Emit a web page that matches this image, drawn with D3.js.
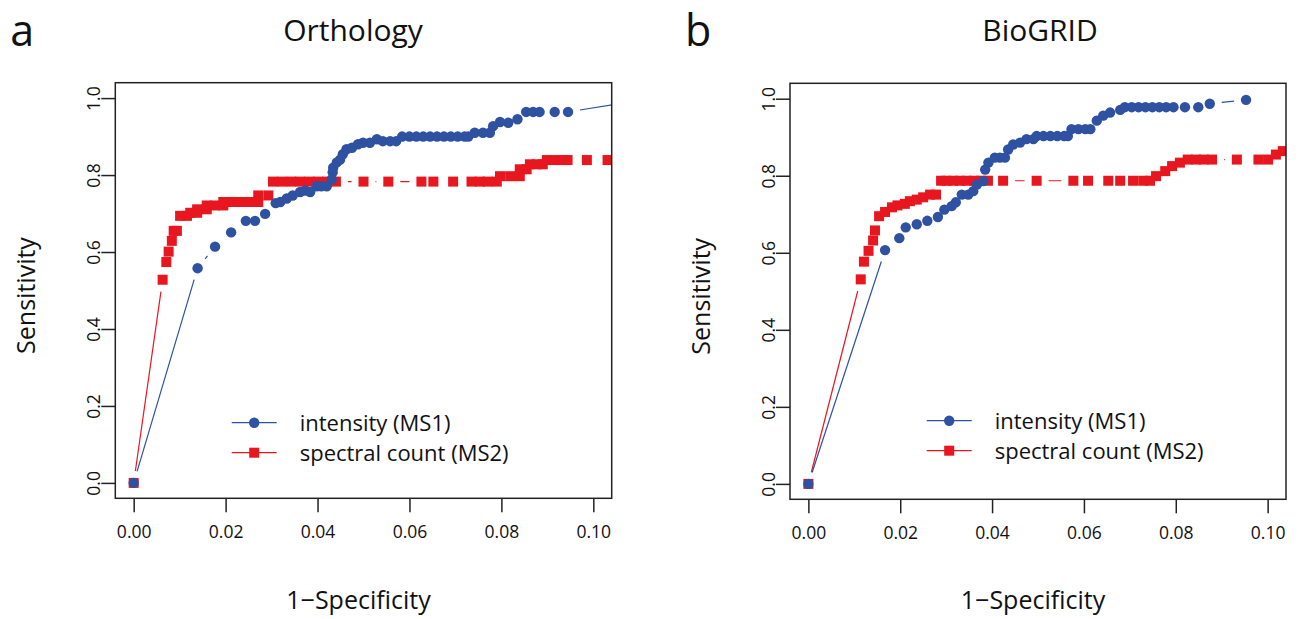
<!DOCTYPE html>
<html>
<head>
<meta charset="utf-8">
<script src="https://cdn.jsdelivr.net/npm/d3@7"></script>
<style>
  body { margin: 0; background: #fff; }
  text { font-family: "Open Sans", "Noto Sans", sans-serif; fill: #111; }
</style>
</head>
<body>
<div id="chart"></div>
<script>
// tick values
var xTicks = [0, 0.02, 0.04, 0.06, 0.08, 0.10];
var yTicks = [0, 0.2, 0.4, 0.6, 0.8, 1.0];
var seriesNames = ["intensity (MS1)", "spectral count (MS2)"];

// panel a: Orthology  [1-specificity, sensitivity]
var orthoIntensity = [
  [0, 0], [0.0139, 0.558], [0.0177, 0.614], [0.0212, 0.651], [0.0244, 0.681], [0.0264, 0.681],
  [0.0286, 0.699], [0.0309, 0.727], [0.0319, 0.730], [0.0333, 0.739], [0.0346, 0.747],
  [0.0362, 0.756], [0.0373, 0.760], [0.0384, 0.756], [0.0398, 0.771], [0.0408, 0.771],
  [0.0420, 0.771], [0.0431, 0.789], [0.0433, 0.807], [0.0434, 0.819], [0.0442, 0.833],
  [0.0449, 0.840], [0.0455, 0.854], [0.0463, 0.867], [0.0475, 0.871], [0.0488, 0.880],
  [0.0499, 0.884], [0.0514, 0.884], [0.0529, 0.893], [0.0542, 0.888], [0.0558, 0.888],
  [0.0571, 0.888], [0.0584, 0.900], [0.0600, 0.900], [0.0615, 0.900], [0.0630, 0.900],
  [0.0645, 0.900], [0.0660, 0.900], [0.0675, 0.900], [0.0690, 0.900], [0.0705, 0.900],
  [0.0720, 0.900], [0.0728, 0.900], [0.0742, 0.910], [0.0760, 0.910], [0.0775, 0.910],
  [0.0782, 0.927], [0.0797, 0.938], [0.0815, 0.936], [0.0835, 0.945], [0.0854, 0.964],
  [0.0869, 0.964], [0.0883, 0.964], [0.0916, 0.964], [0.0945, 0.964], [0.113, 1.0]
];
var orthoCount = [
  [0, 0], [0.0063, 0.528], [0.0071, 0.574], [0.0076, 0.601], [0.0083, 0.629], [0.0087, 0.655],
  [0.0094, 0.655], [0.0101, 0.694], [0.0116, 0.694], [0.0123, 0.702], [0.0138, 0.702],
  [0.0138, 0.711], [0.0159, 0.711], [0.0159, 0.721], [0.0177, 0.721], [0.0195, 0.721],
  [0.0195, 0.730], [0.0214, 0.730], [0.0234, 0.730], [0.0253, 0.730], [0.0271, 0.730],
  [0.0271, 0.747], [0.0293, 0.747], [0.0303, 0.783], [0.0323, 0.783], [0.0343, 0.783],
  [0.0362, 0.783], [0.0382, 0.783], [0.0401, 0.783], [0.0421, 0.783], [0.0440, 0.783],
  [0.0500, 0.783], [0.0554, 0.783], [0.0626, 0.783], [0.0652, 0.783], [0.0695, 0.783],
  [0.0735, 0.783], [0.0753, 0.783], [0.0770, 0.783], [0.0790, 0.783], [0.0797, 0.797],
  [0.0819, 0.797], [0.0840, 0.797], [0.0840, 0.815], [0.0855, 0.815], [0.0862, 0.828],
  [0.0877, 0.828], [0.0890, 0.828], [0.0899, 0.839], [0.0916, 0.839], [0.0934, 0.839],
  [0.0944, 0.839], [0.0986, 0.839], [0.1031, 0.839], [0.1080, 0.839]
];

// panel b: BioGRID
var biogridIntensity = [
  [0, 0], [0.0167, 0.607], [0.0198, 0.638], [0.0212, 0.666], [0.0236, 0.674], [0.0259, 0.683],
  [0.0282, 0.693], [0.0296, 0.712], [0.0312, 0.721], [0.0321, 0.731], [0.0334, 0.751],
  [0.0348, 0.751], [0.0359, 0.760], [0.0367, 0.777], [0.0381, 0.786], [0.0385, 0.816],
  [0.0392, 0.834], [0.0406, 0.847], [0.0417, 0.847], [0.0428, 0.847], [0.0435, 0.868],
  [0.0446, 0.881], [0.0461, 0.886], [0.0475, 0.895], [0.0490, 0.895], [0.0497, 0.903],
  [0.0512, 0.903], [0.0527, 0.903], [0.0542, 0.903], [0.0557, 0.903], [0.0565, 0.903],
  [0.0573, 0.921], [0.0588, 0.921], [0.0603, 0.921], [0.0614, 0.921], [0.0628, 0.943],
  [0.0642, 0.956], [0.0657, 0.964], [0.0679, 0.971], [0.0689, 0.978], [0.0704, 0.978],
  [0.0719, 0.978], [0.0734, 0.978], [0.0749, 0.978], [0.0764, 0.978], [0.0779, 0.978],
  [0.0795, 0.978], [0.0820, 0.978], [0.0849, 0.978], [0.0874, 0.987], [0.0953, 0.997]
];
var biogridCount = [
  [0, 0], [0.0114, 0.531], [0.0121, 0.577], [0.0131, 0.605], [0.0141, 0.632], [0.0145, 0.658],
  [0.0154, 0.695], [0.0167, 0.706], [0.0182, 0.718], [0.0194, 0.723], [0.0210, 0.727],
  [0.0221, 0.734], [0.0236, 0.738], [0.0250, 0.744], [0.0265, 0.751], [0.0278, 0.751],
  [0.0289, 0.787], [0.0301, 0.787], [0.0315, 0.787], [0.0330, 0.787], [0.0345, 0.787],
  [0.0361, 0.787], [0.0376, 0.787], [0.0391, 0.787], [0.0424, 0.787], [0.0497, 0.787],
  [0.0577, 0.787], [0.0609, 0.787], [0.0653, 0.787], [0.0679, 0.787], [0.0707, 0.787],
  [0.0729, 0.787], [0.0744, 0.787], [0.0757, 0.799], [0.0777, 0.812], [0.0792, 0.825],
  [0.0809, 0.834], [0.0826, 0.842], [0.0844, 0.842], [0.0861, 0.842], [0.0879, 0.842],
  [0.0933, 0.842], [0.0980, 0.842], [0.1001, 0.842], [0.1018, 0.855], [0.1033, 0.864]
];

var panels = [
  {letter: "a", title: "Orthology", titleX: 353, box: [115.3, 611.7, 82.7, 498.3],
   legend: [231.7, 422.7], intensity: orthoIntensity, count: orthoCount},
  {letter: "b", title: "BioGRID", titleX: 1040, box: [790, 1286, 83.3, 499.3],
   legend: [926.7, 420.7], intensity: biogridIntensity, count: biogridCount}
];

var blue = "#2e51a1", red = "#e8161f";
var gap = 12; // R type="b" leaves a gap round each point

var svg = d3.select("#chart").append("svg")
  .attr("width", 1302).attr("height", 619);

// line pieces between points, cut back near each point
function segments(pts) {
  var out = [];
  for (var i = 1; i < pts.length; i++) {
    var a = pts[i - 1], b = pts[i];
    var dx = b[0] - a[0], dy = b[1] - a[1], d = Math.sqrt(dx * dx + dy * dy);
    if (d <= 2 * gap) continue;
    var ux = dx / d, uy = dy / d;
    out.push([a[0] + ux * gap, a[1] + uy * gap, b[0] - ux * gap, b[1] - uy * gap]);
  }
  return out;
}

panels.forEach(function(p, k) {
  var x = d3.scaleLinear().domain([-0.004, 0.104]).range([p.box[0], p.box[1]]);
  var y = d3.scaleLinear().domain([-0.04, 1.04]).range([p.box[3], p.box[2]]);
  var g = svg.append("g");

  g.append("clipPath").attr("id", "clip" + k)
    .append("rect")
      .attr("x", p.box[0]).attr("y", p.box[2])
      .attr("width", p.box[1] - p.box[0]).attr("height", p.box[3] - p.box[2]);

  var plot = g.append("g").attr("clip-path", "url(#clip" + k + ")");

  // spectral count first, intensity drawn on top
  var cPts = p.count.map(function(d) { return [x(d[0]), y(d[1])]; });
  plot.selectAll(".cseg").data(segments(cPts)).enter().append("line")
    .attr("x1", function(s) { return s[0]; }).attr("y1", function(s) { return s[1]; })
    .attr("x2", function(s) { return s[2]; }).attr("y2", function(s) { return s[3]; })
    .attr("stroke", red).attr("stroke-width", 1.2);
  plot.selectAll(".sq").data(cPts).enter().append("rect")
    .attr("x", function(d) { return d[0] - 5; }).attr("y", function(d) { return d[1] - 5; })
    .attr("width", 10).attr("height", 10)
    .attr("fill", red);

  var iPts = p.intensity.map(function(d) { return [x(d[0]), y(d[1])]; });
  plot.selectAll(".iseg").data(segments(iPts)).enter().append("line")
    .attr("x1", function(s) { return s[0]; }).attr("y1", function(s) { return s[1]; })
    .attr("x2", function(s) { return s[2]; }).attr("y2", function(s) { return s[3]; })
    .attr("stroke", blue).attr("stroke-width", 1.2);
  plot.selectAll(".dot").data(iPts).enter().append("circle")
    .attr("cx", function(d) { return d[0]; }).attr("cy", function(d) { return d[1]; })
    .attr("r", 5.2)
    .attr("fill", blue);

  // box
  g.append("rect")
    .attr("x", p.box[0]).attr("y", p.box[2])
    .attr("width", p.box[1] - p.box[0]).attr("height", p.box[3] - p.box[2])
    .attr("fill", "none").attr("stroke", "#222").attr("stroke-width", 1.5);

  // axes
  var xAxis = g.append("g")
    .attr("transform", "translate(0," + p.box[3] + ")")
    .call(d3.axisBottom(x).tickValues(xTicks).tickSize(14).tickPadding(10)
      .tickFormat(d3.format(".2f")));
  var yAxis = g.append("g")
    .attr("transform", "translate(" + p.box[0] + ",0)")
    .call(d3.axisLeft(y).tickValues(yTicks).tickSize(14).tickFormat(d3.format(".1f")));
  [xAxis, yAxis].forEach(function(a) {
    a.select(".domain").remove();
    a.selectAll("line").attr("stroke", "#222").attr("stroke-width", 1.5);
    a.selectAll("text").style("font-family", "'Open Sans', sans-serif")
      .style("font-size", "17.5px").attr("fill", "#111");
  });
  xAxis.selectAll("text").attr("dy", "0.9em");
  yAxis.selectAll("text")
    .attr("x", null).attr("dy", null)
    .attr("text-anchor", "middle")
    .attr("transform", "translate(-15,0) rotate(-90)");

  // axis titles
  var cx = (p.box[0] + p.box[1]) / 2;
  g.append("text").attr("x", cx - 5).attr("y", 609)
    .attr("text-anchor", "middle").style("font-size", "25px").text("1\u2212Specificity");
  g.append("text")
    .attr("transform", "translate(" + (p.box[0] - 80) + "," + ((p.box[2] + p.box[3]) / 2 + 5) + ") rotate(-90)")
    .attr("text-anchor", "middle").style("font-size", "25px").text("Sensitivity");
  g.append("text").attr("x", p.titleX).attr("y", 41)
    .attr("text-anchor", "middle").style("font-size", "30px").text(p.title);
  g.append("text").attr("x", p.box[0] - 105).attr("y", 46)
    .style("font-size", "43px").text(p.letter);

  // legend
  var lx = p.legend[0], ly = p.legend[1];
  var leg = g.append("g");
  [blue, red].forEach(function(col, i) {
    var yy = ly + i * 30;
    leg.append("line").attr("x1", lx).attr("x2", lx + 45).attr("y1", yy).attr("y2", yy)
      .attr("stroke", col).attr("stroke-width", 1.2);
    if (i === 0) {
      leg.append("circle").attr("cx", lx + 22.5).attr("cy", yy).attr("r", 5.2).attr("fill", col);
    } else {
      leg.append("rect").attr("x", lx + 17.5).attr("y", yy - 5).attr("width", 10).attr("height", 10)
        .attr("fill", col);
    }
    leg.append("text").attr("x", lx + 68).attr("y", yy + 8)
      .style("font-size", "22px").text(seriesNames[i]);
  });
});
</script>
</body>
</html>
